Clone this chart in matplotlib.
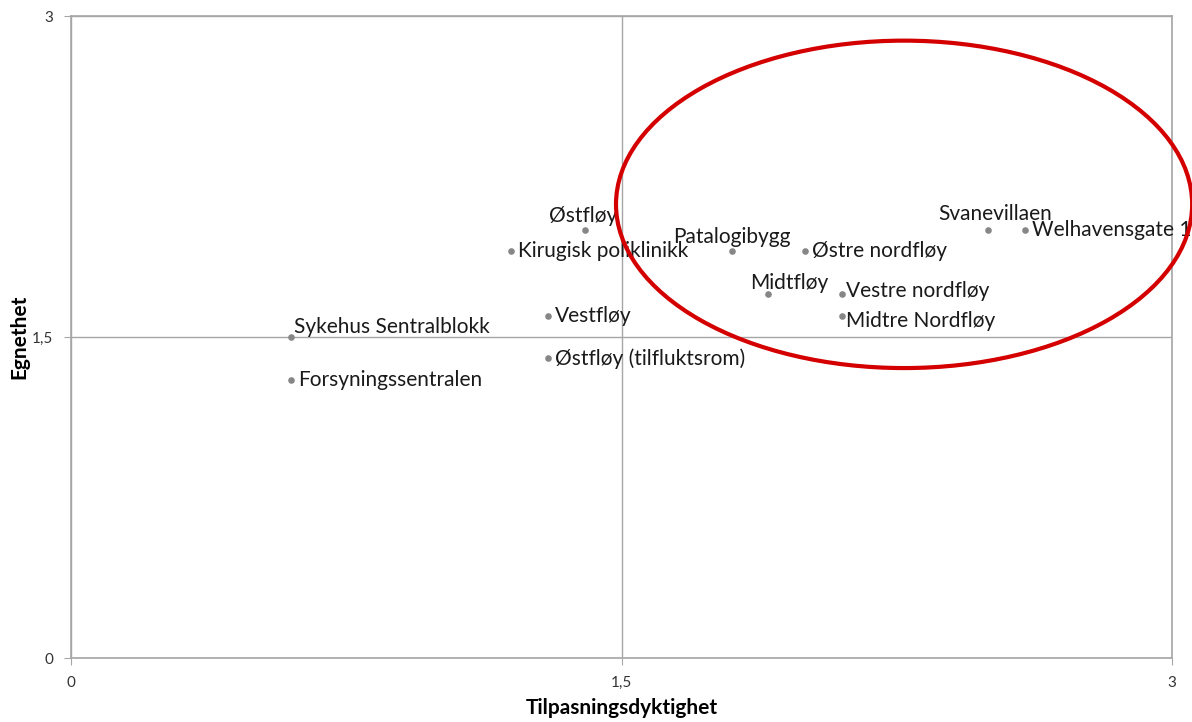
import matplotlib
matplotlib.use("Agg")
import matplotlib.pyplot as plt
from matplotlib.patches import Ellipse
from matplotlib.ticker import FuncFormatter

# data
names = ['Sykehus Sentralblokk', 'Forsyningssentralen', 'Kirugisk poliklinikk', 'Østfløy',
         'Vestfløy', 'Østfløy (tilfluktsrom)', 'Patalogibygg', 'Østre nordfløy', 'Midtfløy',
         'Vestre nordfløy', 'Midtre Nordfløy', 'Svanevillaen', 'Welhavensgate 1']
x_vals = [0.6, 0.6, 1.2, 1.4, 1.3, 1.3, 1.8, 2.0, 1.9, 2.1, 2.1, 2.5, 2.6]
y_vals = [1.5, 1.3, 1.9, 2.0, 1.6, 1.4, 1.9, 1.9, 1.7, 1.7, 1.6, 2.0, 2.0]
ticks = [0, 1.5, 3]

# label placement (offset in points, ha, va)
placement = {
    'Sykehus Sentralblokk': ((2, 0), 'left', 'bottom'),
    'Østfløy': ((-1, 3), 'center', 'bottom'),
    'Patalogibygg': ((0, 3), 'center', 'bottom'),
    'Midtfløy': ((15, 1), 'center', 'bottom'),
    'Svanevillaen': ((5, 4), 'center', 'bottom'),
    'Vestre nordfløy': ((3, 2), 'left', 'center'),
    'Midtre Nordfløy': ((3, -4), 'left', 'center'),
}

plt.rcParams['font.family'] = ['Lato', 'DejaVu Sans']

fig = plt.figure(figsize=(11.92, 7.22), dpi=100)
ax = fig.add_axes([0.0596, 0.0886, 0.9236, 0.8892])

ax.scatter(x_vals, y_vals, s=14, color='#868686', zorder=3)
for n, x, y in zip(names, x_vals, y_vals):
    off, ha, va = placement.get(n, ((5, 0), 'left', 'center'))
    ax.annotate(n, (x, y), xytext=off, textcoords='offset points',
                ha=ha, va=va, fontsize=15, color='#1a1a1a')

ax.set_xlim(0, 3)
ax.set_ylim(0, 3)
ax.set_xticks(ticks)
ax.set_yticks(ticks)
fmt = FuncFormatter(lambda v, p: ('%g' % v).replace('.', ','))
ax.xaxis.set_major_formatter(fmt)
ax.yaxis.set_major_formatter(fmt)
ax.tick_params(length=5, color='#a6a6a6', labelsize=11, labelcolor='#333333', pad=8)
ax.grid(True, color='#a6a6a6', linewidth=1)
ax.set_axisbelow(True)
for s in ax.spines.values():
    s.set_color('#a6a6a6')
    s.set_linewidth(1.2)

ax.set_xlabel('Tilpasningsdyktighet', fontsize=15, fontweight='bold', labelpad=6)
ax.set_ylabel('Egnethet', fontsize=15, fontweight='bold', labelpad=2)

ell = Ellipse((2.27, 2.12), 1.57, 1.53, fill=False, edgecolor='#d40000',
              linewidth=3, clip_on=False, zorder=4)
ax.add_patch(ell)

fig.savefig('out.png', dpi=100)
